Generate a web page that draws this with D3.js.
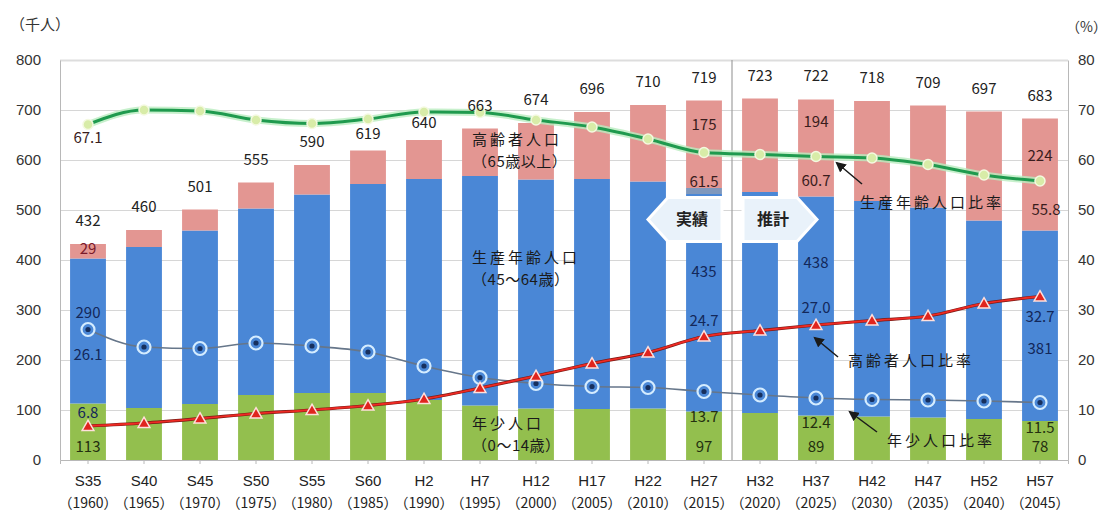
<!DOCTYPE html>
<html lang="ja">
<head>
  <meta charset="UTF-8">
  <title>人口の推移</title>
  <style>
    html, body {
      margin: 0;
      background-color: #ffffff;
    }
    svg text {
      font-family: "Noto Sans CJK JP", "Noto Sans", sans-serif;
    }
  </style>
</head>
<body>
  <svg id="chart" width="1106" height="514"></svg>

  <script src="https://cdnjs.cloudflare.com/ajax/libs/d3/7.8.5/d3.min.js"></script>
  <script>
    // data (千人 / %)
    const categories = ['S35', 'S40', 'S45', 'S50', 'S55', 'S60', 'H2', 'H7', 'H12', 'H17', 'H22', 'H27',
      'H32', 'H37', 'H42', 'H47', 'H52', 'H57'];
    const years = ['(1960)', '(1965)', '(1970)', '(1975)', '(1980)', '(1985)', '(1990)', '(1995)', '(2000)',
      '(2005)', '(2010)', '(2015)', '(2020)', '(2025)', '(2030)', '(2035)', '(2040)', '(2045)'];
    const youngPop = [113, 104, 112, 130, 134, 134, 120, 109, 103, 102, 103, 97, 94, 89, 87, 85, 82, 78];
    const workingPop = [290, 322, 347, 373, 397, 418, 442, 459, 458, 460, 454, 435, 442, 438, 431, 420, 397, 381];
    const unknownPop = [0, 0, 0, 0, 0, 0, 0, 0, 0, 0, 0, 12, 0, 0, 0, 0, 0, 0];
    const elderlyPop = [29, 34, 42, 52, 59, 67, 78, 95, 113, 134, 153, 175, 187, 194, 200, 204, 218, 224];
    const totalPop = [432, 460, 501, 555, 590, 619, 640, 663, 674, 696, 710, 719, 723, 722, 718, 709, 697, 683];
    const workingRatio = [67.1, 70.0, 69.8, 68.0, 67.3, 68.2, 69.6, 69.5, 68.0, 66.6, 64.2, 61.5, 61.1, 60.7, 60.4, 59.1, 57.0, 55.8];
    const elderlyRatio = [6.8, 7.4, 8.3, 9.3, 10.0, 10.9, 12.2, 14.4, 16.8, 19.3, 21.5, 24.7, 25.9, 27.0, 27.9, 28.8, 31.3, 32.7];
    const youngRatio = [26.1, 22.6, 22.3, 23.4, 22.8, 21.6, 18.8, 16.5, 15.3, 14.7, 14.5, 13.7, 13.0, 12.4, 12.1, 12.0, 11.8, 11.5];
    const leftTicks = [0, 100, 200, 300, 400, 500, 600, 700, 800];
    const rightTicks = [0, 10, 20, 30, 40, 50, 60, 70, 80];
    const labelledCats = ['S35', 'H27', 'H37', 'H57'];

    const width = 1106;
    const height = 514;
    const margin = {top: 60, right: 38, bottom: 54, left: 60};
    const numFont = '"Liberation Sans", Arial, sans-serif';
    const colors = {
      young: '#93bf4e',
      working: '#4a87d6',
      unknown: '#7f98bd',
      elderly: '#e39692',
      grid: '#d6d6d6',
      axis: '#b8b8b8'
    };

    const svg = d3.select('#chart');

    const x = d3.scaleBand()
      .domain(categories)
      .range([margin.left, width - margin.right])
      .paddingInner(0.36)
      .paddingOuter(0.18);
    const xc = c => x(c) + x.bandwidth() / 2;
    const yLeft = d3.scaleLinear().domain([0, 800]).range([height - margin.bottom, margin.top]);
    const yRight = d3.scaleLinear().domain([0, 80]).range([height - margin.bottom, margin.top]);

    const rows = categories.map((c, i) => ({
      cat: c,
      young: youngPop[i],
      working: workingPop[i],
      unknown: unknownPop[i],
      elderly: elderlyPop[i]
    }));
    const keys = ['young', 'working', 'unknown', 'elderly'];
    const series = d3.stack().keys(keys)(rows);

    /**
     * Grid + frame
     */
    svg.append('g')
      .selectAll('line')
      .data(leftTicks.slice(1, -1))
      .join('line')
      .attr('x1', margin.left)
      .attr('x2', width - margin.right)
      .attr('y1', d => yLeft(d) + 0.5)
      .attr('y2', d => yLeft(d) + 0.5)
      .attr('stroke', colors.grid)
      .attr('stroke-width', 1);

    svg.append('line')
      .attr('x1', margin.left).attr('x2', width - margin.right)
      .attr('y1', margin.top + 0.5).attr('y2', margin.top + 0.5)
      .attr('stroke', '#dddddd').attr('stroke-width', 2);

    /**
     * Bars
     */
    svg.append('g')
      .selectAll('g')
      .data(series)
      .join('g')
      .attr('fill', d => colors[d.key])
      .selectAll('rect')
      .data(d => d)
      .join('rect')
      .attr('x', d => x(d.data.cat))
      .attr('y', d => yLeft(d[1]))
      .attr('width', x.bandwidth())
      .attr('height', d => yLeft(d[0]) - yLeft(d[1]));

    // axes
    const axisLeft = svg.append('g')
      .attr('transform', `translate(${margin.left},0)`)
      .call(d3.axisLeft(yLeft).tickValues(leftTicks).tickSize(0).tickPadding(19));
    const axisRight = svg.append('g')
      .attr('transform', `translate(${width - margin.right},0)`)
      .call(d3.axisRight(yRight).tickValues(rightTicks).tickSize(0).tickPadding(10));
    const axisBottom = svg.append('g')
      .attr('transform', `translate(0,${height - margin.bottom})`)
      .call(d3.axisBottom(x).tickSize(4).tickPadding(6).tickFormat(''));
    [axisLeft, axisRight, axisBottom].forEach(a => {
      a.select('.domain').attr('stroke', colors.axis);
      a.selectAll('.tick line').attr('stroke', colors.axis);
      a.selectAll('text')
        .attr('font-size', 15)
        .attr('fill', '#333')
        .style('font-family', numFont);
    });

    const xLabels = svg.append('g')
      .selectAll('text')
      .data(categories)
      .join('text')
      .attr('x', d => xc(d))
      .attr('text-anchor', 'middle')
      .attr('font-size', 14)
      .attr('fill', '#222');
    xLabels.append('tspan').attr('x', d => xc(d)).attr('y', height - margin.bottom + 26)
      .style('font-family', numFont).attr('font-size', 15).text(d => d);
    xLabels.append('tspan').attr('x', d => xc(d)).attr('y', height - margin.bottom + 48)
      .text((d, i) => years[i].replace('(', '（').replace(')', '）'));

    svg.append('text').attr('x', 10).attr('y', 30).attr('font-size', 15).attr('fill', '#333').text('（千人）');
    svg.append('text').attr('x', 1066).attr('y', 32).attr('font-size', 14).attr('fill', '#333').text('（%）');

    // 実績 / 推計 divider
    const divX = (x(categories[11]) + x.bandwidth() + x(categories[12])) / 2;
    svg.append('line')
      .attr('x1', divX).attr('x2', divX)
      .attr('y1', margin.top).attr('y2', height - margin.bottom)
      .attr('stroke', '#a0a0a0').attr('stroke-width', 1.2);

    /**
     * Lines
     */
    const idx = categories.map((c, i) => i);
    const lineOf = values => d3.line()
      .x(i => xc(categories[i]))
      .y(i => yRight(values[i]))
      .curve(d3.curveMonotoneX)(idx);

    // working-age ratio
    svg.append('path').attr('d', lineOf(workingRatio)).attr('fill', 'none')
      .attr('stroke', '#b9ecbf').attr('stroke-width', 7).attr('opacity', 0.8);
    svg.append('path').attr('d', lineOf(workingRatio)).attr('fill', 'none')
      .attr('stroke', '#1f9a4e').attr('stroke-width', 3);
    svg.append('g').selectAll('circle').data(idx).join('circle')
      .attr('cx', i => xc(categories[i]))
      .attr('cy', i => yRight(workingRatio[i]))
      .attr('r', 5)
      .attr('fill', '#d8eca8')
      .attr('stroke', '#f4f9e0')
      .attr('stroke-width', 1.5);

    // young ratio
    svg.append('path').attr('d', lineOf(youngRatio)).attr('fill', 'none')
      .attr('stroke', '#66768a').attr('stroke-width', 1.6);
    const youngMarks = svg.append('g').selectAll('g').data(idx).join('g')
      .attr('transform', i => `translate(${xc(categories[i])},${yRight(youngRatio[i])})`);
    youngMarks.append('circle').attr('r', 6.5).attr('fill', '#4a87d6')
      .attr('stroke', '#d4ecff').attr('stroke-width', 2.2);
    youngMarks.append('circle').attr('r', 2.6).attr('fill', '#17305e');

    // elderly ratio
    svg.append('path').attr('d', lineOf(elderlyRatio)).attr('fill', 'none')
      .attr('stroke', '#7a1a14').attr('stroke-width', 3.2);
    svg.append('path').attr('d', lineOf(elderlyRatio)).attr('fill', 'none')
      .attr('stroke', '#ee2a24').attr('stroke-width', 1.8);
    svg.append('g').selectAll('path').data(idx).join('path')
      .attr('transform', i => `translate(${xc(categories[i])},${yRight(elderlyRatio[i]) + 1})`)
      .attr('d', d3.symbol().type(d3.symbolTriangle).size(60))
      .attr('fill', '#e0241e')
      .attr('stroke', '#ffe0dc')
      .attr('stroke-width', 1.5);

    /**
     * Value labels
     */
    const labels = svg.append('g')
      .attr('font-size', 15)
      .attr('text-anchor', 'middle')
      .style('font-family', numFont);

    labels.selectAll('text.total')
      .data(idx)
      .join('text')
      .attr('class', 'total')
      .attr('x', i => xc(categories[i]))
      .attr('y', i => yLeft(totalPop[i]) - (i === 5 || i === 6 ? 12 : 18))
      .attr('fill', '#222')
      .text(i => totalPop[i]);

    // offsets (px) of the in-bar labels for the four labelled years
    const place = {
      S35: {elderly: 5, working: 54, wRatio: 13, eRatio: -13},
      H27: {elderly: 24, working: 84, wRatio: 29, eRatio: -16},
      H37: {elderly: 22, working: 66, wRatio: 24, eRatio: -17},
      H57: {elderly: 37, working: 118, wRatio: 29, eRatio: 20}
    };
    labelledCats.forEach(c => {
      const i = categories.indexOf(c);
      const p = place[c];
      const cx = xc(c);
      const stackTop = youngPop[i] + workingPop[i] + unknownPop[i] + elderlyPop[i];
      const workTop = youngPop[i] + workingPop[i] + unknownPop[i];
      const add = (y, txt, fill, dx = 0) => labels.append('text')
        .attr('x', cx + dx).attr('y', y).attr('dy', '0.35em')
        .attr('fill', fill).text(txt);
      add(yLeft(stackTop) + p.elderly, elderlyPop[i], i === 0 ? '#7a1a2a' : '#3a1d1d');
      add(yRight(workingRatio[i]) + p.wRatio, workingRatio[i].toFixed(1), '#3a1d1d', i === 17 ? 6 : 0);
      add(yLeft(workTop) + p.working, workingPop[i], '#13285a');
      add(yRight(elderlyRatio[i]) + p.eRatio, elderlyRatio[i].toFixed(1), '#13285a');
      add(yRight(youngRatio[i]) + 25, youngRatio[i].toFixed(1), i === 0 ? '#13285a' : '#243010');
      add(yLeft(0) - 13, youngPop[i], '#243010');
    });

    /**
     * 実績 / 推計 boxes
     */
    const boxTop = yLeft(525);
    const boxBot = yLeft(437);
    const boxMid = (boxTop + boxBot) / 2;
    const pastRight = divX - 10;
    const pastLeft = pastRight - 74;
    svg.append('path')
      .attr('d', `M${pastLeft},${boxMid} L${pastLeft + 20},${boxTop} L${pastRight},${boxTop} L${pastRight},${boxBot} L${pastLeft + 20},${boxBot} Z`)
      .attr('fill', '#e9f2fa').attr('stroke', '#ffffff').attr('stroke-width', 3);
    svg.append('text').attr('x', pastLeft + 44).attr('y', boxMid).attr('dy', '0.36em')
      .attr('text-anchor', 'middle').attr('font-size', 16).attr('font-weight', 'bold').attr('fill', '#222')
      .text('実績');
    const futLeft = divX + 11;
    const futRight = futLeft + 74;
    svg.append('path')
      .attr('d', `M${futLeft},${boxTop} L${futRight - 20},${boxTop} L${futRight},${boxMid} L${futRight - 20},${boxBot} L${futLeft},${boxBot} Z`)
      .attr('fill', '#e9f2fa').attr('stroke', '#ffffff').attr('stroke-width', 3);
    svg.append('text').attr('x', futLeft + 30).attr('y', boxMid).attr('dy', '0.36em')
      .attr('text-anchor', 'middle').attr('font-size', 16).attr('font-weight', 'bold').attr('fill', '#222')
      .text('推計');

    /**
     * Annotations
     */
    const note = svg.append('g')
      .attr('font-size', 15)
      .attr('fill', '#1a1a1a');
    const noteText = (x0, y0, lines) => {
      lines.forEach((s, k) => note.append('text')
        .attr('x', x0)
        .attr('y', y0 + k * 22)
        .attr('letter-spacing', k === 0 ? 3 : 0.5)
        .text(s));
    };
    const annX = x('H12') - 46;
    noteText(annX, yLeft(630), ['高齢者人口', '（65歳以上）']);
    noteText(annX, yLeft(394), ['生産年齢人口', '（45～64歳）']);
    noteText(annX, yLeft(62), ['年少人口', '（0～14歳）']);

    svg.append('defs').append('marker')
      .attr('id', 'head')
      .attr('viewBox', '0 0 10 10')
      .attr('refX', 8).attr('refY', 5)
      .attr('markerWidth', 7).attr('markerHeight', 7)
      .attr('orient', 'auto-start-reverse')
      .append('path').attr('d', 'M0,0 L10,5 L0,10 Z').attr('fill', '#1a1a1a');

    const arrow = (x1, y1, x2, y2) => svg.append('line')
      .attr('x1', x1).attr('y1', y1).attr('x2', x2).attr('y2', y2)
      .attr('stroke', '#1a1a1a').attr('stroke-width', 1.5)
      .attr('marker-end', 'url(#head)');

    const h42 = xc('H42');
    const h37 = xc('H37');
    arrow(h42 - 10, yRight(55.2), h42 - 35, yRight(59.4));
    noteText(h42 - 12, yRight(50.4), ['生産年齢人口比率']);
    arrow(h37 + 22, yRight(20.6), h37 - 1, yRight(24.4));
    noteText(h37 + 32, yRight(18.8), ['高齢者人口比率']);
    arrow(h42 + 5, yRight(5.6), h42 - 22, yRight(9.6));
    noteText(h42 + 15, yRight(2.8), ['年少人口比率']);
  </script>
</body>
</html>
